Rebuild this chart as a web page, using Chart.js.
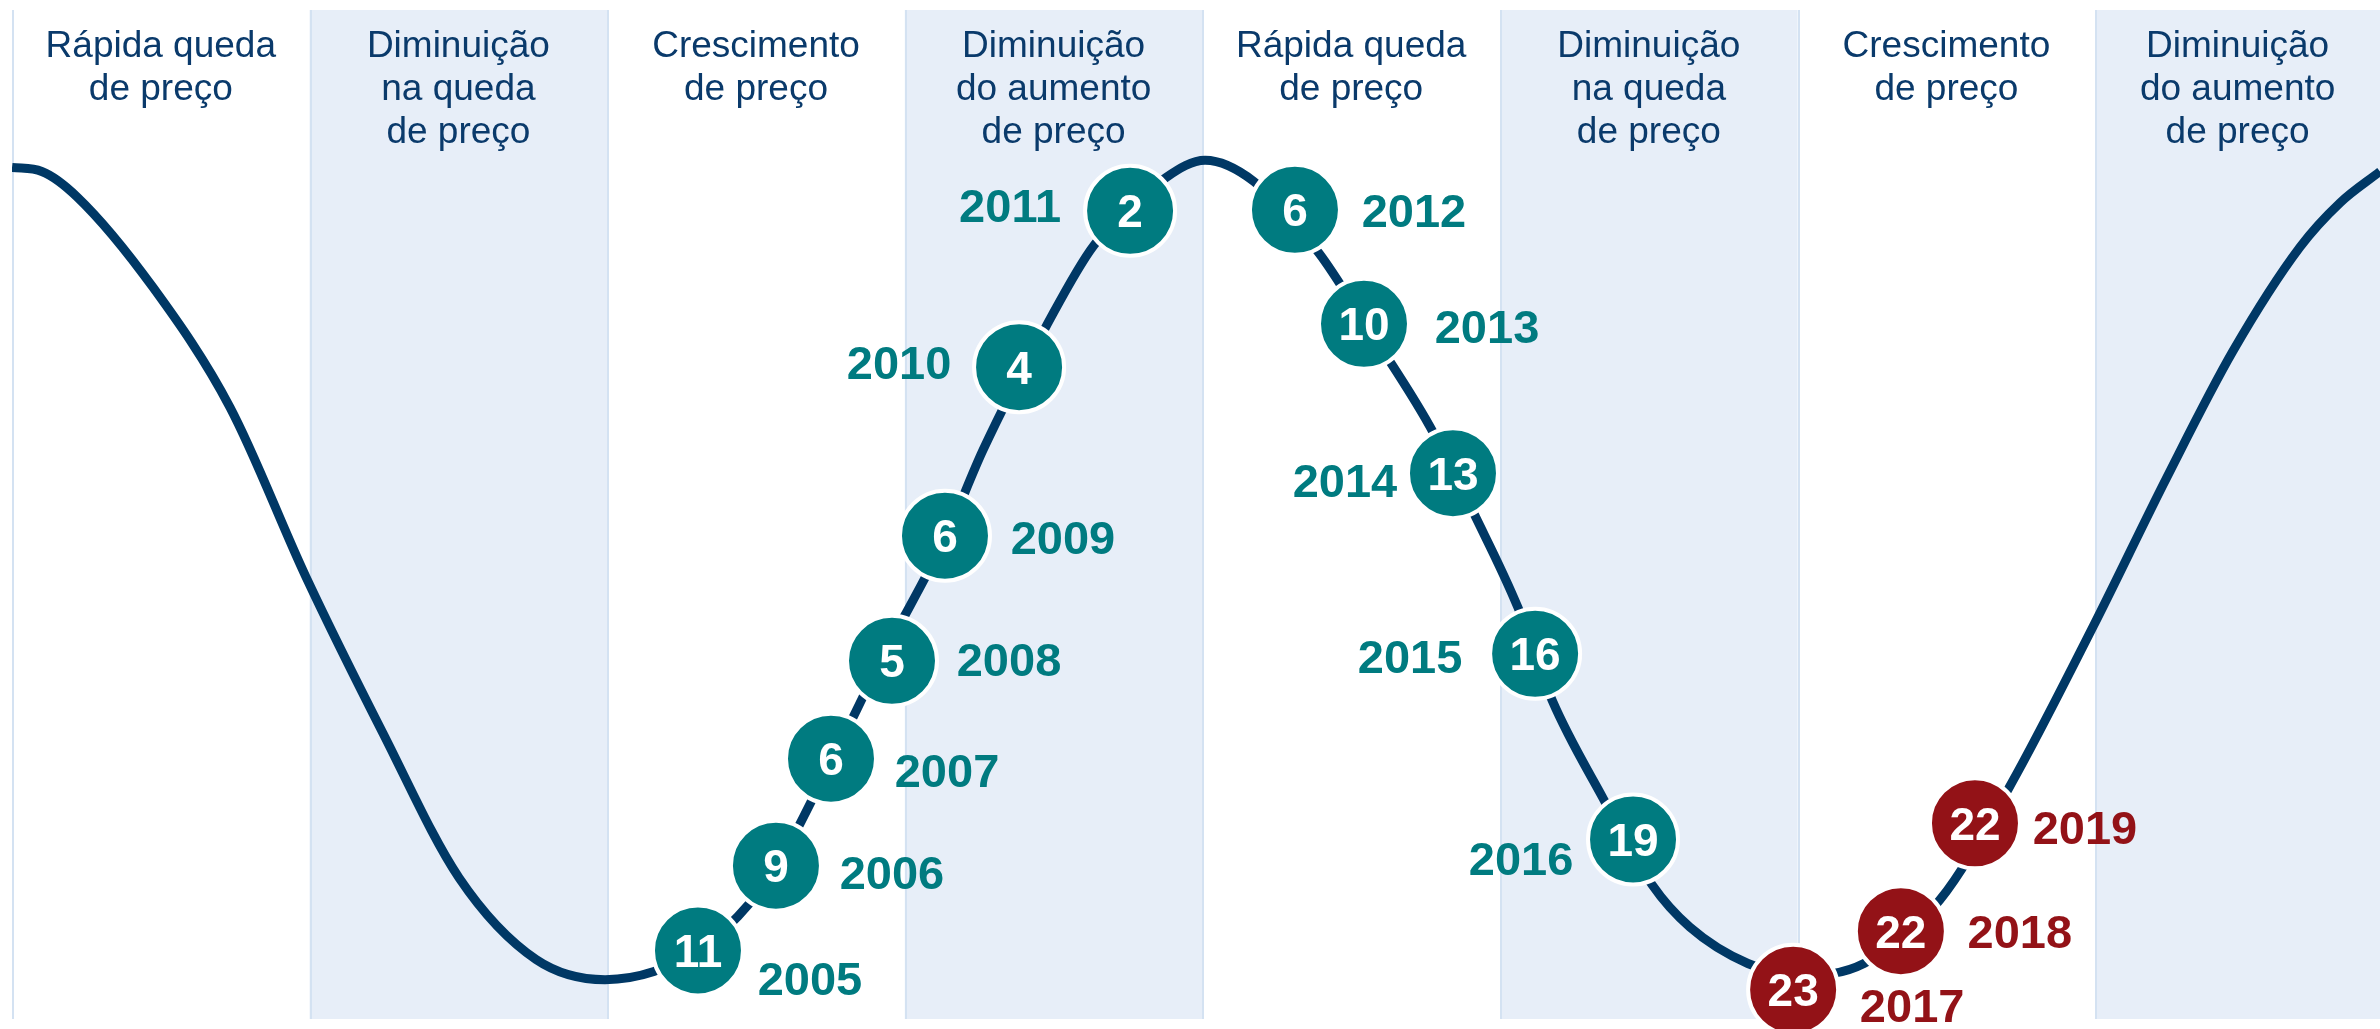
<!DOCTYPE html>
<html><head><meta charset="utf-8">
<script src="https://cdn.jsdelivr.net/npm/chart.js@4.4.1/dist/chart.umd.min.js"></script>
<style>html,body{margin:0;padding:0;background:#fff;overflow:hidden}canvas{display:block}</style>
</head><body>
<canvas id="c" width="2380" height="1029"></canvas>
<script>
// Phase headers (one per band, band i spans x = i .. i+1)
const phases = [
  ["Rápida queda", "de preço"],
  ["Diminuição", "na queda", "de preço"],
  ["Crescimento", "de preço"],
  ["Diminuição", "do aumento", "de preço"],
  ["Rápida queda", "de preço"],
  ["Diminuição", "na queda", "de preço"],
  ["Crescimento", "de preço"],
  ["Diminuição", "do aumento", "de preço"]
];

// Cycle curve (position along cycle in band units, level 0-100)
const cycleX = [0, 0.100, 0.218, 0.474, 0.733, 0.988, 1.247, 1.502, 1.761, 1.993,
  2.157, 2.312, 2.440, 2.567, 2.752, 2.930, 3.138, 3.263, 3.474, 3.636, 3.878, 4.009,
  4.173, 4.392, 4.543, 4.765, 4.919, 5.060, 5.175, 5.346, 5.511, 5.638, 5.833, 6.008,
  6.223, 6.478, 6.710, 6.993, 7.241, 7.463, 7.688, 7.823, 7.957];
const cycleLevel = [84.4, 84.0, 81.5, 72.5, 60.6, 43.8, 28.3, 14.0, 5.9, 3.9,
  4.7, 7.0, 10.2, 15.0, 25.5, 36.1, 47.8, 56.4, 68.6, 76.7, 83.4, 85.1,
  83.0, 75.9, 69.1, 58.7, 49.7, 40.8, 31.6, 21.9, 13.3, 9.1, 5.5, 4.3,
  5.5, 11.8, 22.9, 38.9, 53.7, 66.2, 76.5, 80.9, 84.0];

// Ranking per year and its position on the cycle
const years = [2005, 2006, 2007, 2008, 2009, 2010, 2011, 2012, 2013, 2014, 2015, 2016, 2017, 2018, 2019];
const ranks = [11, 9, 6, 5, 6, 4, 2, 6, 10, 13, 16, 19, 23, 22, 22];
const rankX = [2.305, 2.567, 2.752, 2.957, 3.135, 3.384, 3.757, 4.311, 4.543, 4.842, 5.118, 5.447, 5.985, 6.347, 6.596];
const rankLevel = [6.8, 15.2, 25.8, 35.5, 47.9, 64.6, 80.1, 80.2, 68.9, 54.1, 36.2, 17.8, 2.9, 8.7, 19.4];

// Layout of year labels relative to each bubble (pixels)
const labelDx = [112, 116, 116, 117, 118, -120, -120, 119, 123, -108, -125, -112, 119, 119, 110];
const labelDy = [28, 6, 11, -2, 1, -5, -6, 0, 2, 7, 2, 19, 15, 0, 4];

const highlightFrom = 2017;
const TEAL = '#007b80', RED = '#931217', NAVY = '#003865', HEAD = '#0a3a6b';
const BAND = '#e7eef8', BAND_LINE = '#d4e2f2';
const FONT = '"Liberation Sans", Arial, Helvetica, sans-serif';

const bandPlugin = {
  id: 'bands',
  beforeDatasetsDraw(chart) {
    const {ctx, chartArea: a, scales: {x}} = chart;
    ctx.save();
    for (let i = 0; i < phases.length; i++) {
      const x0 = x.getPixelForValue(i);
      const x1 = Math.min(x.getPixelForValue(i + 1), a.right);
      if (i % 2 === 1) {
        ctx.fillStyle = BAND;
        ctx.fillRect(x0, a.top, x1 - x0, a.bottom - a.top);
      }
    }
    ctx.strokeStyle = BAND_LINE;
    ctx.lineWidth = 2;
    for (let i = 0; i < phases.length; i++) {
      const x0 = Math.round(x.getPixelForValue(i)) + 1;
      ctx.beginPath();
      ctx.moveTo(x0, a.top);
      ctx.lineTo(x0, a.bottom);
      ctx.stroke();
    }
    ctx.fillStyle = HEAD;
    ctx.font = '37px ' + FONT;
    ctx.textAlign = 'center';
    ctx.textBaseline = 'alphabetic';
    for (let i = 0; i < phases.length; i++) {
      const x0 = x.getPixelForValue(i);
      const x1 = Math.min(x.getPixelForValue(i + 1), a.right);
      const cx = (x0 + x1) / 2;
      phases[i].forEach((t, j) => ctx.fillText(t, cx, a.top + 47 + j * 43));
    }
    ctx.restore();
  }
};

const labelPlugin = {
  id: 'labels',
  afterDatasetsDraw(chart) {
    const {ctx} = chart;
    const meta = chart.getDatasetMeta(0);
    ctx.save();
    ctx.textAlign = 'center';
    ctx.textBaseline = 'alphabetic';
    meta.data.forEach((pt, i) => {
      ctx.fillStyle = '#ffffff';
      ctx.font = 'bold 46px ' + FONT;
      ctx.fillText(String(ranks[i]), pt.x, pt.y + 16.5);
      ctx.fillStyle = years[i] >= highlightFrom ? RED : TEAL;
      ctx.font = 'bold 47px ' + FONT;
      ctx.fillText(String(years[i]), pt.x + labelDx[i], pt.y + labelDy[i] + 17);
    });
    ctx.restore();
  }
};

const bubbleColors = years.map(y => y >= highlightFrom ? RED : TEAL);

new Chart(document.getElementById('c'), {
  type: 'scatter',
  data: {
    datasets: [
      {
        type: 'scatter',
        data: rankX.map((v, i) => ({x: v, y: rankLevel[i]})),
        pointRadius: 45,
        pointHoverRadius: 45,
        pointBackgroundColor: bubbleColors,
        pointBorderColor: '#ffffff',
        pointBorderWidth: 4,
        pointHoverBorderWidth: 4,
        clip: false,
        order: 0
      },
      {
        type: 'line',
        data: cycleX.map((v, i) => ({x: v, y: cycleLevel[i]})),
        borderColor: NAVY,
        borderWidth: 9,
        pointRadius: 0,
        pointHoverRadius: 0,
        fill: false,
        cubicInterpolationMode: 'monotone',
        order: 1
      }
    ]
  },
  options: {
    responsive: false,
    devicePixelRatio: 1,
    animation: false,
    events: [],
    layout: {autoPadding: false, padding: {left: 12, top: 10, right: 0, bottom: 10}},
    scales: {
      x: {type: 'linear', min: 0, max: 7.957, display: false},
      y: {type: 'linear', min: 0, max: 100, display: false}
    },
    plugins: {legend: {display: false}, tooltip: {enabled: false}}
  },
  plugins: [bandPlugin, labelPlugin]
});
</script>
</body></html>
